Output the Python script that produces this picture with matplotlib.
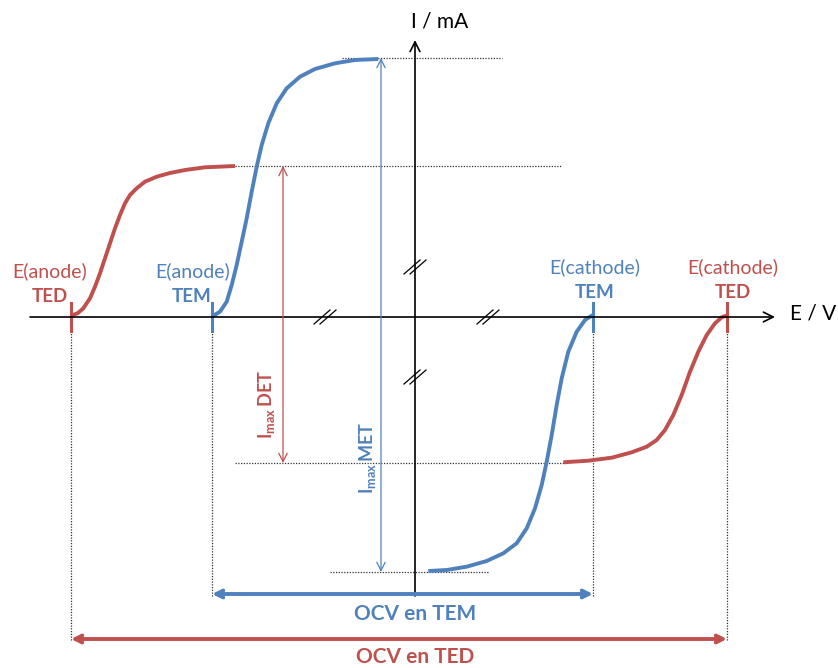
import matplotlib
matplotlib.use("Agg")
import matplotlib.pyplot as plt

plt.rcParams['font.family'] = ['Lato', 'DejaVu Sans']
plt.rcParams['mathtext.fontset'] = 'custom'
plt.rcParams['mathtext.bf'] = 'Lato:bold'
plt.rcParams['mathtext.rm'] = 'Lato'

RED = '#C0504D'
BLUE = '#4F81BD'

# ---- data (schematic units) ----
anode_ted_E = [71.7, 78, 83.3, 90, 95, 100, 105, 110, 115, 120,
               125, 130, 136.7, 145, 156.7, 170, 185, 205, 235]
anode_ted_I = [315.5, 313, 308.3, 298.3, 286.7, 273.3, 258.3, 243.3, 228.3, 215,
               203.3, 195, 188.3, 181.7, 176.7, 173, 170, 167.3, 166]
anode_tem_E = [213.3, 220, 226.7, 231.7, 236.7, 241.7, 246.7, 251.7, 256.7, 261.7,
               268.3, 276.7, 286.7, 300, 315, 335, 355, 378.3]
anode_tem_I = [315.7, 311.7, 301.7, 285, 265, 241.7, 218.3, 191.7, 166.7, 145,
               123.3, 103.3, 88.3, 76.7, 69, 63.3, 60, 59]
cath_tem_E = [428.3, 446.7, 466.7, 486.7, 503.3, 516.7, 526.7, 535, 541.7, 546.7,
              551.7, 556.7, 561.7, 568.3, 576.7, 585, 592.7]
cath_tem_I = [571, 570, 566.7, 561, 553.3, 543.3, 528.3, 508.3, 485, 461.7,
              435, 405, 378.3, 351.7, 331.7, 320, 315]
cath_ted_E = [563.3, 588.3, 611.7, 631.7, 646.7, 656.7, 665, 673.3, 681.7, 690,
              698.3, 706.7, 715, 721.7, 728.3]
cath_ted_I = [462.3, 460.7, 457.7, 452.3, 446.7, 440, 430, 415, 395, 371.7,
              351.7, 335, 323.3, 317.3, 315]

E_ted = [71, 727]      # anode, cathode potentials (TED)
E_tem = [212, 593]     # anode, cathode potentials (TEM)
Imax_ted = [166, 463]  # plateau currents (TED)
Imax_tem = [58, 572]   # plateau currents (TEM)
I_zero = 317
E_zero = 415

fig = plt.figure(figsize=(8.38, 6.68), dpi=100)
ax = fig.add_axes([0, 0, 1, 1])
ax.set_xlim(0, 838)
ax.set_ylim(668, 0)
ax.axis('off')

dot = dict(color='#333333', lw=0.9, ls=(0, (1, 1.2)))

# horizontal dotted guides
ax.plot([342, 502], [Imax_tem[0]] * 2, **dot)
ax.plot([235, 562], [Imax_ted[0]] * 2, **dot)
ax.plot([235, 566], [Imax_ted[1]] * 2, **dot)
ax.plot([330, 488], [Imax_tem[1]] * 2, **dot)
# vertical dotted guides
for x, yb in [(E_ted[0], 641), (E_tem[0], 596), (E_tem[1], 596), (E_ted[1], 641)]:
    ax.plot([x, x], [I_zero, yb], **dot)

# axes
ax.annotate('', xy=(775, I_zero), xytext=(30, I_zero),
            arrowprops=dict(arrowstyle='->,head_length=0.7,head_width=0.35', lw=1.2,
                            color='black', shrinkA=0, shrinkB=0))
ax.annotate('', xy=(E_zero, 40), xytext=(E_zero, 596),
            arrowprops=dict(arrowstyle='->,head_length=0.7,head_width=0.35', lw=1.2,
                            color='black', shrinkA=0, shrinkB=0))

# break marks
for (bx, by) in [(325, I_zero), (488, I_zero), (E_zero, 267), (E_zero, 377)]:
    for d in (-3, 3):
        ax.plot([bx + d - 8, bx + d + 8], [by + 7, by - 7], color='black', lw=0.9)

# curves
style = dict(lw=2.8, solid_capstyle='butt', solid_joinstyle='round')
ax.plot(anode_ted_E, anode_ted_I, color=RED, **style)
ax.plot(cath_ted_E, cath_ted_I, color=RED, **style)
ax.plot(anode_tem_E, anode_tem_I, color=BLUE, **style)
ax.plot(cath_tem_E, cath_tem_I, color=BLUE, **style)

# potential ticks
for x, c in [(E_ted[0], RED), (E_ted[1], RED), (E_tem[0], BLUE), (E_tem[1], BLUE)]:
    ax.plot([x, x], [303, 331], color=c, lw=2.2)

# Imax arrows
ax.annotate('', xy=(283, Imax_ted[0]), xytext=(283, Imax_ted[1]),
            arrowprops=dict(arrowstyle='<->,head_length=0.6,head_width=0.3', lw=0.9,
                            color=RED, shrinkA=0, shrinkB=0))
ax.annotate('', xy=(381, Imax_tem[0]), xytext=(381, Imax_tem[1]),
            arrowprops=dict(arrowstyle='<->,head_length=0.6,head_width=0.3', lw=0.9,
                            color=BLUE, shrinkA=0, shrinkB=0))

# OCV arrows
ax.annotate('', xy=(E_tem[0], 594), xytext=(E_tem[1], 594),
            arrowprops=dict(arrowstyle='<->,head_length=0.5,head_width=0.25', lw=2.8,
                            color=BLUE, shrinkA=0, shrinkB=0))
ax.annotate('', xy=(E_ted[0], 639), xytext=(E_ted[1], 639),
            arrowprops=dict(arrowstyle='<->,head_length=0.5,head_width=0.25', lw=2.8,
                            color=RED, shrinkA=0, shrinkB=0))

# texts
ax.text(440, 21, 'I / mA', fontsize=15, ha='center', va='center', color='black')
ax.text(790, 313, 'E / V', fontsize=15, ha='left', va='center', color='black')

lab = dict(fontsize=14, ha='center', va='center')
bld = dict(fontsize=13.5, ha='center', va='center', fontweight='bold')
ax.text(50, 271, 'E(anode)', color=RED, **lab)
ax.text(50, 297, 'TED', color=RED, **bld)
ax.text(193, 271, 'E(anode)', color=BLUE, **lab)
ax.text(192, 297, 'TEM', color=BLUE, **bld)
ax.text(595, 267, 'E(cathode)', color=BLUE, **lab)
ax.text(595, 292, 'TEM', color=BLUE, **bld)
ax.text(733, 267, 'E(cathode)', color=RED, **lab)
ax.text(733, 292, 'TED', color=RED, **bld)

ax.text(266, 405, r'$\mathbf{I_{max}\,DET}$', fontsize=13, color=RED,
        rotation=90, ha='center', va='center')
ax.text(367, 458, r'$\mathbf{I_{max}\,MET}$', fontsize=13, color=BLUE,
        rotation=90, ha='center', va='center')

ax.text(415, 614, 'OCV en TEM', fontsize=15, color=BLUE, ha='center', va='center', fontweight='bold')
ax.text(415, 657, 'OCV en TED', fontsize=15, color=RED, ha='center', va='center', fontweight='bold')

fig.savefig('out.png', dpi=100)
